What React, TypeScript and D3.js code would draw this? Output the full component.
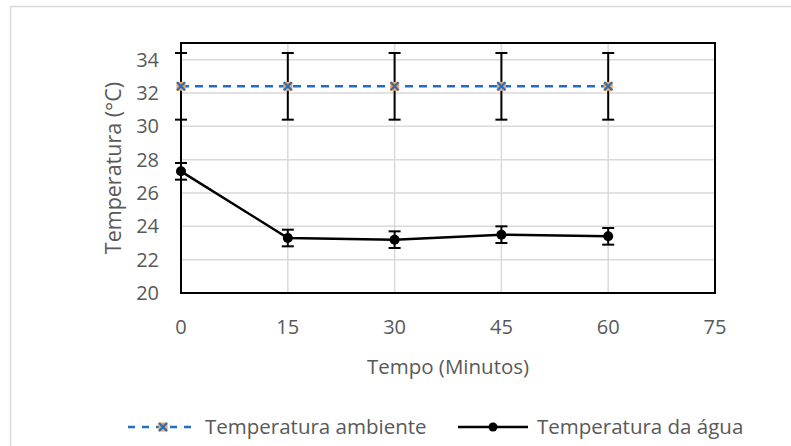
import React from 'react';
import * as d3 from 'd3';

// data
const tempos = [0, 15, 30, 45, 60];
const ambiente = [32.4, 32.4, 32.4, 32.4, 32.4];
const ambienteErro = [2, 2, 2, 2, 2];
const agua = [27.3, 23.3, 23.2, 23.5, 23.4];
const aguaErro = [0.5, 0.5, 0.5, 0.5, 0.5];
const xTicks = [0, 15, 30, 45, 60, 75];
const yTicks = [20, 22, 24, 26, 28, 30, 32, 34];

const font = "'Open Sans', sans-serif";
const grey = '#595959';

const App = () => {
    const width = 791;
    const height = 446;
    const margin = { top: 43, right: 76, bottom: 153, left: 181 };

    const x = d3.scaleLinear().domain([0, 75]).range([margin.left, width - margin.right]);
    const y = d3.scaleLinear().domain([20, 35]).range([height - margin.bottom, margin.top]);

    const line = d3.line<number>()
        .x((_, i) => x(tempos[i]))
        .y(d => y(d));

    const errorBars = (vals: number[], errs: number[], key: string) =>
        vals.map((v, i) => {
            const cx = x(tempos[i]);
            const y0 = y(v - errs[i]);
            const y1 = y(v + errs[i]);
            return (
                <g key={key + i} stroke="#000" strokeWidth={2}>
                    <line x1={cx} x2={cx} y1={y0} y2={y1} />
                    <line x1={cx - 6} x2={cx + 6} y1={y0} y2={y0} />
                    <line x1={cx - 6} x2={cx + 6} y1={y1} y2={y1} />
                </g>
            );
        });

    const xMarker = (cx: number, cy: number, key: string) => (
        <g key={key}>
            <rect x={cx - 4.5} y={cy - 4.5} width={9} height={9} fill="#F4A460" />
            <path d={`M${cx - 4},${cy - 4}L${cx + 4},${cy + 4}M${cx - 4},${cy + 4}L${cx + 4},${cy - 4}`}
                stroke="#1F6FC4" strokeWidth={2.2} />
        </g>
    );

    const legendY = 427;

    return (
        <svg width={width} height={height} style={{ position: 'absolute', left: 0, top: 0, fontFamily: font }}>
            <rect x={0} y={0} width={width} height={height} fill="#fff" />
            <rect x={10.5} y={6.5} width={width} height={height} fill="none" stroke="#d9d9d9" strokeWidth={1.5} />

            {/* gridlines */}
            {yTicks.filter(t => t > 20).map(t => (
                <line key={'gy' + t} x1={x(0)} x2={x(75)} y1={y(t)} y2={y(t)} stroke="#d9d9d9" strokeWidth={1.5} />
            ))}
            {xTicks.filter(t => t > 0 && t < 75).map(t => (
                <line key={'gx' + t} x1={x(t)} x2={x(t)} y1={y(20)} y2={y(35)} stroke="#d9d9d9" strokeWidth={1.5} />
            ))}

            {/* plot frame */}
            <rect x={x(0)} y={y(35)} width={x(75) - x(0)} height={y(20) - y(35)} fill="none" stroke="#000" strokeWidth={2} />

            {/* tick labels */}
            {yTicks.map(t => (
                <text key={'ty' + t} x={x(0) - 22} y={y(t)} dy="0.35em" textAnchor="end" fontSize={20} fill={grey}>{t}</text>
            ))}
            {xTicks.map(t => (
                <text key={'tx' + t} x={x(t)} y={y(20) + 34} dy="0.35em" textAnchor="middle" fontSize={20} fill={grey}>{t}</text>
            ))}

            {/* axis titles */}
            <text x={(x(0) + x(75)) / 2} y={367} dy="0.35em" textAnchor="middle" fontSize={20.5} fill={grey}>Tempo (Minutos)</text>
            <text transform={`translate(113,${(y(20) + y(35)) / 2}) rotate(-90)`} dy="0.35em" textAnchor="middle" fontSize={21.5} fill={grey}>Temperatura (°C)</text>

            {/* water series */}
            {errorBars(agua, aguaErro, 'ea')}
            <path d={line(agua) ?? ''} fill="none" stroke="#000" strokeWidth={2.5} />
            {agua.map((v, i) => (
                <circle key={'ca' + i} cx={x(tempos[i])} cy={y(v)} r={5} fill="#000" />
            ))}

            {/* ambient series */}
            {errorBars(ambiente, ambienteErro, 'eb')}
            <path d={line(ambiente) ?? ''} fill="none" stroke="#1F6FC4" strokeWidth={2.5} strokeDasharray="8,6" />
            {ambiente.map((v, i) => xMarker(x(tempos[i]), y(v), 'mb' + i))}

            {/* legend */}
            <line x1={128} x2={194} y1={legendY} y2={legendY} stroke="#1F6FC4" strokeWidth={2.5} strokeDasharray="7,7" />
            {xMarker(163, legendY, 'lg1')}
            <text x={205} y={legendY} dy="0.35em" fontSize={20.5} fill={grey}>Temperatura ambiente</text>
            <line x1={458} x2={528} y1={legendY} y2={legendY} stroke="#000" strokeWidth={2.5} />
            <circle cx={493} cy={legendY} r={4.5} fill="#000" />
            <text x={537} y={legendY} dy="0.35em" fontSize={20.5} fill={grey}>Temperatura da água</text>
        </svg>
    );
};

export default App;
